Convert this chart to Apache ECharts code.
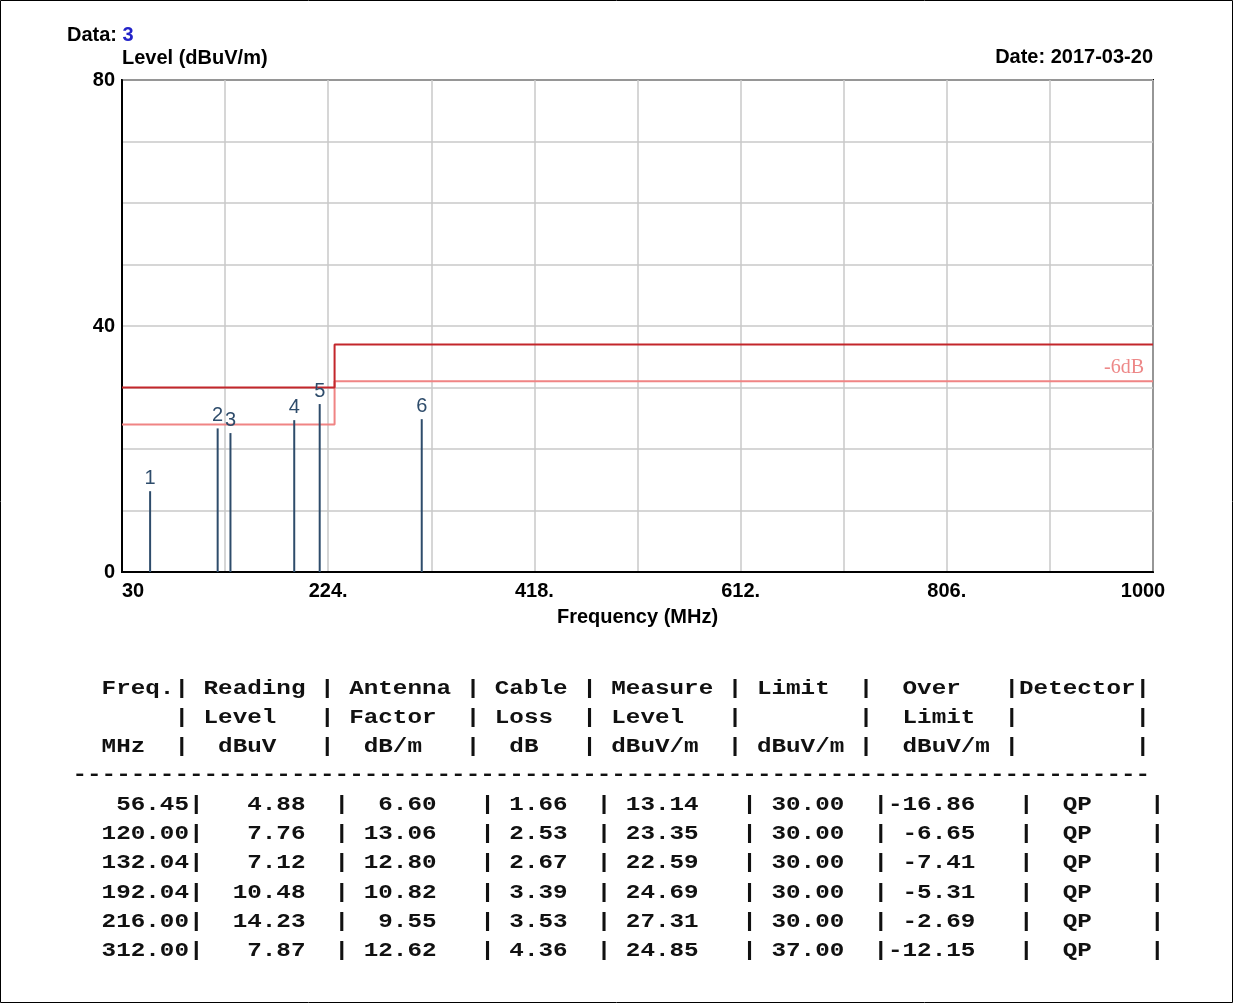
<!DOCTYPE html>
<html>
<head>
<meta charset="utf-8">
<script src="https://cdn.jsdelivr.net/npm/echarts@6/dist/echarts.min.js"></script>
<style>
html,body{margin:0;padding:0;background:#fff;}
#c{width:1233px;height:1003px;}
</style>
</head>
<body>
<div id="c"></div>
<script>
// ---- data ----
const freqs   = [56.45, 120.00, 132.04, 192.04, 216.00, 312.00];
const reading = [4.88, 7.76, 7.12, 10.48, 14.23, 7.87];
const antenna = [6.60, 13.06, 12.80, 10.82, 9.55, 12.62];
const cable   = [1.66, 2.53, 2.67, 3.39, 3.53, 4.36];
const measure = [13.14, 23.35, 22.59, 24.69, 27.31, 24.85];
const limitAt = [30.00, 30.00, 30.00, 30.00, 30.00, 37.00];
const overLimit = [-16.86, -6.65, -7.41, -5.31, -2.69, -12.15];
const detector = ['QP', 'QP', 'QP', 'QP', 'QP', 'QP'];

const limitFreq  = [30, 230, 230, 1000];
const limitLevel = [30, 30, 37, 37];
const marginLevel = [24, 24, 31, 31];

const xTickValues = [30, 224, 418, 612, 806, 1000];
const xTickLabels = ['30', '224.', '418.', '612.', '806.', '1000'];
const yTickValues = [0, 40, 80];

const dataNo = '3';
const dateText = 'Date: 2017-03-20';

// ---- layout ----
const PL = 122, PT = 80, PW = 1031, PH = 492;
const X0 = 30;
const lineCol = '#2e4c6b';
const sansFont = "'Liberation Sans', Arial, sans-serif";
const monoFont = "'Liberation Mono', 'DejaVu Sans Mono', monospace";

const chart = echarts.init(document.getElementById('c'), null, {renderer: 'canvas'});

// table lines
const h1 = '  ' + 'Freq.|' + ' Reading ' + '|' + ' Antenna ' + '|' + ' Cable ' + '|' + ' Measure ' + '|' + ' Limit  ' + '|' + '  Over   ' + '|' + 'Detector' + '|';
const h2 = '       ' + '|' + ' Level   ' + '|' + ' Factor  ' + '|' + ' Loss  ' + '|' + ' Level   ' + '|' + '        ' + '|' + '  Limit  ' + '|' + '        ' + '|';
const h3 = '  MHz  ' + '|' + '  dBuV   ' + '|' + '  dB/m   ' + '|' + '  dB   ' + '|' + ' dBuV/m  ' + '|' + ' dBuV/m ' + '|' + '  dBuV/m ' + '|' + '        ' + '|';
const dash = '-'.repeat(74);
const rows = freqs.map((f, i) =>
  '  ' + f.toFixed(2).padStart(6) + '|' +
  reading[i].toFixed(2).padStart(7) + '  |' +
  antenna[i].toFixed(2).padStart(6) + '   | ' +
  cable[i].toFixed(2).padStart(4) + '  | ' +
  measure[i].toFixed(2).padStart(5) + '   | ' +
  limitAt[i].toFixed(2).padStart(5) + '  |' +
  overLimit[i].toFixed(2).padStart(6) + '   |  ' +
  detector[i].padEnd(6) + '|'
);

const CW = 14.56, TX = 72.5, FS = 19.5;
const sx = CW / (0.6 * FS);
const tableLines = [
  {t: h1, y: 689}, {t: h2, y: 718}, {t: h3, y: 747}, {t: dash, y: 775}
].concat(rows.map((r, i) => ({t: r, y: 805 + i * 29.2})));

const graphics = [
  {type: 'rect', shape: {x: 0.5, y: 0.5, width: 1232, height: 1002}, style: {fill: 'none', stroke: '#000', lineWidth: 1}, silent: true},
  {type: 'text', x: 67, y: 35, style: {text: '{a|Data: }{b|' + dataNo + '}', verticalAlign: 'middle',
    rich: {a: {fontFamily: sansFont, fontSize: 20, fontWeight: 'bold', fill: '#000'},
           b: {fontFamily: sansFont, fontSize: 20, fontWeight: 'bold', fill: '#2323c8'}}}},
  {type: 'text', x: 1153, y: 57, style: {text: dateText, textAlign: 'right', verticalAlign: 'middle', fontFamily: sansFont, fontSize: 20, fontWeight: 'bold', fill: '#000'}}
].concat(tableLines.map(l => ({
  type: 'text', x: TX, y: l.y, scaleX: sx,
  style: {text: l.t, textAlign: 'left', verticalAlign: 'middle', fontFamily: monoFont, fontSize: FS, fontWeight: 'bold', fill: '#111'}
})));

const tickLabelStyle = {color: '#000', fontFamily: sansFont, fontSize: 20, fontWeight: 'bold'};

const option = {
  animation: false,
  backgroundColor: '#fff',
  grid: {left: PL, top: PT, width: PW, height: PH, show: true, borderColor: '#000', borderWidth: 2, backgroundColor: 'transparent'},
  xAxis: [
    {type: 'value', min: 30, max: 1000, show: false},
    {type: 'value', min: 0, max: 970, interval: 97, position: 'bottom',
     axisLine: {show: true, onZero: false, lineStyle: {color: '#000', width: 2}},
     axisTick: {show: false},
     splitLine: {show: true, lineStyle: {color: '#c8c8c8', width: 1.5}},
     axisLabel: Object.assign({}, tickLabelStyle, {
       margin: 9, showMinLabel: true, showMaxLabel: true, alignMinLabel: 'left', alignMaxLabel: 'center',
       rich: {n: tickLabelStyle, m: Object.assign({}, tickLabelStyle, {padding: [0, 20, 0, 0]})},
       formatter: v => {
         const f = v + X0;
         const k = xTickValues.findIndex(t => Math.abs(t - f) < 0.5);
         if (k < 0) return '';
         return (k === xTickValues.length - 1 ? '{m|' : '{n|') + xTickLabels[k] + '}';
       }
     }),
     name: 'Frequency (MHz)', nameLocation: 'middle', nameGap: 35,
     nameTextStyle: {color: '#000', fontFamily: sansFont, fontSize: 20, fontWeight: 'bold'}
    }
  ],
  yAxis: {
    type: 'value', min: 0, max: 80, interval: 10,
    axisLine: {show: true, lineStyle: {color: '#000', width: 2}},
    axisTick: {show: false},
    splitLine: {show: true, lineStyle: {color: '#c8c8c8', width: 1.5}},
    axisLabel: Object.assign({}, tickLabelStyle, {margin: 7,
      formatter: v => yTickValues.indexOf(v) >= 0 ? String(v) : ''}),
    name: 'Level (dBuV/m)', nameLocation: 'end', nameGap: 22,
    nameTextStyle: {color: '#000', fontFamily: sansFont, fontSize: 20, fontWeight: 'bold', align: 'left', verticalAlign: 'middle'}
  },
  series: [
    {type: 'line', xAxisIndex: 0, data: limitFreq.map((f, i) => [f, limitLevel[i]]), symbol: 'none', silent: true,
     lineStyle: {color: '#c3262b', width: 2}, z: 4},
    {type: 'line', xAxisIndex: 0, data: limitFreq.map((f, i) => [f, marginLevel[i]]), symbol: 'none', silent: true,
     lineStyle: {color: '#f08484', width: 2}, z: 3},
    {type: 'scatter', xAxisIndex: 0, data: [[limitFreq[limitFreq.length - 1], marginLevel[marginLevel.length - 1]]],
     symbolSize: 2, itemStyle: {color: 'rgba(0,0,0,0)'}, silent: true, z: 6,
     label: {show: true, position: 'left', distance: 8, offset: [0, -14], formatter: '-6dB',
       color: '#e86a6a', fontFamily: "'Liberation Serif', 'Times New Roman', serif", fontSize: 20}},
    {type: 'bar', xAxisIndex: 0, data: freqs.map((f, i) => [f, measure[i]]), barWidth: 2, silent: true,
     itemStyle: {color: lineCol}, z: 5,
     label: {show: true, position: 'top', distance: 3, color: lineCol, fontFamily: sansFont, fontSize: 20,
       formatter: p => String(p.dataIndex + 1)}}
  ],
  graphic: graphics
};
chart.setOption(option);
</script>
</body>
</html>
